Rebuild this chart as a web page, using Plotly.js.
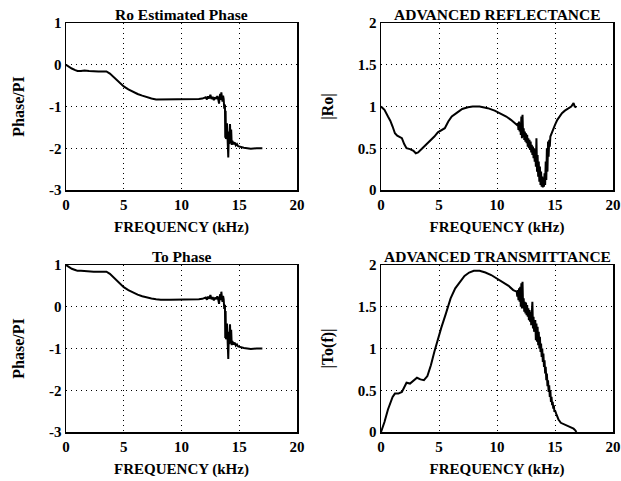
<!DOCTYPE html>
<html><head><meta charset="utf-8">
<script src="https://cdn.plot.ly/plotly-3.0.1.min.js"></script>
<style>html,body{margin:0;padding:0;background:#fff}#c{width:621px;height:481px}</style>
</head><body><div id="c"></div>
<script>
// Frequency (kHz) for the phase plots
const fPhase = [0,0.2,0.5,0.8,1.0,1.3,1.6,2.0,2.4,2.8,3.2,3.5,3.8,4.1,4.4,4.7,5.0,5.4,5.8,6.2,6.6,7.0,7.4,7.8,8.2,9.0,10.0,11.0,11.5,11.8,12.0,12.1,12.2,12.3,12.4,12.5,12.6,12.7,12.8,12.9,13.0,13.1,13.2,13.25,13.3,13.35,13.4,13.45,13.5,13.55,13.6,13.65,13.7,13.73,13.76,13.79,13.82,13.85,13.88,13.91,13.94,13.97,14.0,14.05,14.1,14.15,14.2,14.25,14.3,14.35,14.4,14.5,14.6,14.7,14.8,14.9,15.0,15.2,15.4,15.7,16.0,16.5,17.0];
const roPhase = [0,-0.04,-0.09,-0.13,-0.15,-0.15,-0.14,-0.15,-0.16,-0.16,-0.16,-0.16,-0.21,-0.29,-0.37,-0.45,-0.52,-0.59,-0.65,-0.7,-0.74,-0.78,-0.81,-0.83,-0.83,-0.83,-0.83,-0.82,-0.82,-0.81,-0.8,-0.78,-0.83,-0.76,-0.81,-0.72,-0.82,-0.77,-0.85,-0.78,-0.82,-0.75,-0.85,-0.93,-0.78,-0.7,-0.84,-0.66,-0.78,-0.88,-0.74,-0.82,-1.05,-1.65,-0.95,-1.75,-1.1,-1.78,-1.3,-1.72,-1.4,-1.75,-1.5,-2.22,-1.6,-1.9,-1.42,-1.88,-1.55,-1.92,-1.82,-1.9,-1.86,-1.93,-1.9,-1.95,-1.96,-1.98,-1.99,-2.0,-2.01,-2.0,-2.0];
const toPhase = [1.0,0.96,0.91,0.88,0.86,0.86,0.85,0.85,0.84,0.84,0.84,0.84,0.79,0.71,0.63,0.55,0.47,0.4,0.34,0.29,0.25,0.22,0.2,0.18,0.17,0.17,0.17,0.18,0.18,0.19,0.2,0.22,0.17,0.24,0.19,0.28,0.18,0.23,0.15,0.22,0.18,0.25,0.15,0.07,0.22,0.3,0.16,0.36,0.22,0.12,0.26,0.18,-0.05,-0.65,0.05,-0.75,-0.1,-0.78,-0.3,-0.72,-0.4,-0.75,-0.5,-1.25,-0.6,-0.9,-0.42,-0.88,-0.55,-0.92,-0.82,-0.9,-0.86,-0.93,-0.9,-0.95,-0.96,-0.98,-0.99,-1.0,-1.01,-1.0,-1.0];

// Advanced reflectance |Ro|
const fRo = [0,0.3,0.6,0.8,1.0,1.2,1.4,1.6,1.8,2.0,2.2,2.5,2.8,3.0,3.2,3.5,3.8,4.2,4.6,4.9,5.2,5.5,5.8,6.1,6.5,7.0,7.5,7.9,8.5,9.2,9.8,10.4,10.8,11.2,11.5,11.7,
  11.80,11.85,11.90,11.95,12.00,12.05,12.10,12.15,12.20,12.25,12.30,12.35,12.40,12.45,12.50,12.55,12.60,12.65,12.70,12.75,12.80,12.85,12.90,12.95,
  13.00,13.05,13.10,13.15,13.20,13.25,13.30,13.35,13.40,13.45,13.50,13.55,13.60,13.65,13.70,13.75,13.80,13.85,13.90,13.95,
  14.00,14.05,14.10,14.15,14.20,14.25,14.30,14.35,14.40,14.45,14.50,14.55,14.60,14.7,14.8,14.9,15.0,15.2,15.4,15.6,15.85,16.1,16.4,16.6,16.7,16.85];
const roMag = [1.0,0.96,0.88,0.83,0.76,0.68,0.65,0.63,0.62,0.55,0.5,0.49,0.47,0.44,0.45,0.49,0.53,0.58,0.64,0.69,0.71,0.74,0.82,0.88,0.92,0.97,0.99,1.0,1.0,0.98,0.95,0.91,0.88,0.84,0.81,0.78,
  0.80,0.72,0.82,0.70,0.80,0.66,0.88,0.62,0.90,0.64,0.74,0.60,0.70,0.58,0.68,0.56,0.66,0.52,0.62,0.50,0.60,0.48,0.58,0.45,
  0.54,0.42,0.52,0.38,0.50,0.34,0.48,0.28,0.62,0.22,0.42,0.16,0.34,0.10,0.28,0.06,0.22,0.04,0.16,0.03,
  0.12,0.04,0.20,0.06,0.34,0.12,0.50,0.22,0.58,0.40,0.60,0.52,0.64,0.68,0.70,0.74,0.78,0.84,0.88,0.92,0.95,0.97,1.0,1.04,1.0,0.99];

// Advanced transmittance |To(f)|
const fTo = [0,0.3,0.6,0.8,1.0,1.2,1.5,1.8,2.0,2.2,2.5,2.8,3.1,3.4,3.7,4.0,4.3,4.6,4.9,5.2,5.6,6.0,6.4,6.8,7.2,7.6,8.0,8.5,9.0,9.5,10.0,10.5,11.0,11.4,
  11.70,11.75,11.80,11.85,11.90,11.95,12.00,12.05,12.10,12.15,12.20,12.25,12.30,12.35,12.40,12.45,12.50,12.55,12.60,12.65,12.70,12.75,12.80,12.85,12.90,12.95,
  13.00,13.05,13.10,13.15,13.20,13.30,13.35,13.40,13.45,13.50,13.55,13.60,13.65,13.70,13.75,13.80,13.85,13.90,13.95,
  14.00,14.05,14.10,14.15,14.20,14.25,14.30,14.35,14.40,14.45,14.50,14.55,14.60,14.65,14.70,14.75,14.80,14.85,14.90,14.95,
  15.0,15.1,15.2,15.3,15.5,15.8,16.1,16.4,16.6,16.75,16.85];
const toMag = [0,0.12,0.27,0.34,0.42,0.46,0.46,0.48,0.53,0.59,0.58,0.61,0.65,0.63,0.62,0.67,0.8,0.96,1.12,1.25,1.42,1.6,1.72,1.8,1.87,1.91,1.93,1.93,1.91,1.88,1.84,1.8,1.75,1.7,
  1.68,1.62,1.70,1.58,1.72,1.56,1.74,1.50,1.78,1.48,1.80,1.48,1.60,1.44,1.56,1.42,1.55,1.40,1.52,1.38,1.48,1.34,1.46,1.32,1.44,1.28,
  1.40,1.56,1.24,1.38,1.20,1.34,1.10,1.30,1.08,1.26,1.04,1.20,1.00,1.14,0.96,1.06,0.90,1.00,0.84,
  0.94,0.78,0.86,0.70,0.78,0.62,0.70,0.55,0.62,0.48,0.56,0.42,0.50,0.36,0.42,0.32,0.36,0.28,0.32,0.24,
  0.26,0.22,0.18,0.15,0.11,0.09,0.07,0.05,0.04,0.02,0.0];

const xTicks = [0,5,10,15,20];
const phaseTicks = [-3,-2,-1,0,1];
const magTicks = [0,0.5,1,1.5,2];
const magTickText = ['0','0.5','1','1.5','2'];
const titles = ['Ro Estimated Phase','ADVANCED REFLECTANCE','To Phase','ADVANCED TRANSMITTANCE'];
const yTitles = ['Phase/PI','|Ro|','Phase/PI','|To(f)|'];
const xTitle = 'FREQUENCY (kHz)';

const FONT = 'Liberation Serif, Times New Roman, serif';
const line = {color:'#000', width:2};
const traces = [
  {x:fPhase, y:roPhase, xaxis:'x', yaxis:'y', mode:'lines', line},
  {x:fRo, y:roMag, xaxis:'x2', yaxis:'y2', mode:'lines', line},
  {x:fPhase, y:toPhase, xaxis:'x3', yaxis:'y3', mode:'lines', line},
  {x:fTo, y:toMag, xaxis:'x4', yaxis:'y4', mode:'lines', line}
];

const W=621,H=481;
const colX = [[66,297],[381,613]];
const rowY = [[23,190],[265,432]];
function xa(col, anchor){
  return {domain:[colX[col][0]/W, colX[col][1]/W], anchor, range:[0,20], tickvals:xTicks, ticktext:xTicks.map(String),
    showline:true, mirror:true, linecolor:'#000', linewidth:1.5, showgrid:true, gridcolor:'#000', gridwidth:1, griddash:'1px,4px',
    zeroline:false, ticks:'', tickfont:{family:FONT, size:15, color:'#000', weight:'bold'},
    title:{text:xTitle, font:{family:FONT, size:15, color:'#000', weight:'bold'}, standoff:10}, fixedrange:true};
}
function ya(row, anchor, i, mag){
  return {domain:[1-rowY[row][1]/H, 1-rowY[row][0]/H], anchor,
    range: mag ? [0,2] : [-3,1], tickvals: mag ? magTicks : phaseTicks, ticktext: mag ? magTickText : phaseTicks.map(String),
    showline:true, mirror:true, linecolor:'#000', linewidth:1.5, showgrid:true, gridcolor:'#000', gridwidth:1, griddash:'1px,4px',
    zeroline:false, ticks:'', tickfont:{family:FONT, size:15, color:'#000', weight:'bold'},
    title:{text:yTitles[i], font:{family:FONT, size:16, color:'#000', weight:'bold'}, standoff:20}, fixedrange:true};
}
const annotations = titles.map((t,i)=>{
  const col=i%2,row=Math.floor(i/2);
  return {text:t, xref:'paper', yref:'paper', x:(colX[col][0]+colX[col][1])/2/W, y:1-rowY[row][0]/H,
    xanchor:'center', yanchor:'bottom', yshift:-2, showarrow:false,
    font:{family:FONT, size:15.5, color:'#000', weight:'bold'}};
});
const layout = {
  width:W, height:H, margin:{l:0,r:0,t:0,b:0}, showlegend:false,
  paper_bgcolor:'#fff', plot_bgcolor:'#fff',
  xaxis:xa(0,'y'), yaxis:ya(0,'x',0,false),
  xaxis2:xa(1,'y2'), yaxis2:ya(0,'x2',1,true),
  xaxis3:xa(0,'y3'), yaxis3:ya(1,'x3',2,false),
  xaxis4:xa(1,'y4'), yaxis4:ya(1,'x4',3,true),
  annotations
};
Plotly.newPlot('c', traces, layout, {staticPlot:true, displayModeBar:false});
</script></body></html>
